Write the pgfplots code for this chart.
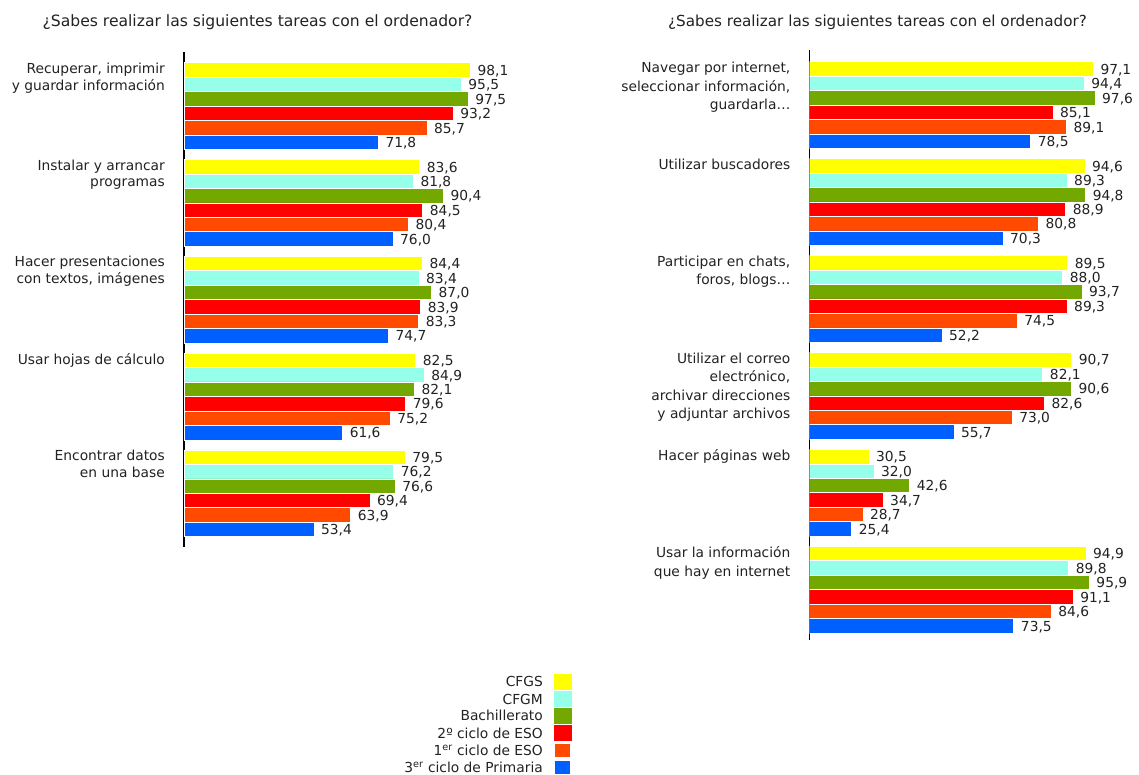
\documentclass[border=0pt]{standalone}
\usepackage{pgfplots}
\pgfplotsset{compat=1.18}
\usepackage{pgfplotstable}
\usepackage{fontspec}
\setmainfont{DejaVu Sans}

\definecolor{cfgs}{HTML}{FFFF00}
\definecolor{cfgm}{HTML}{96FFEA}
\definecolor{bach}{HTML}{72A800}
\definecolor{esoii}{HTML}{FF0000}
\definecolor{esoi}{HTML}{FF4A00}
\definecolor{prim}{HTML}{0060FF}
\definecolor{txt}{HTML}{222222}

\newcommand{\lblfont}{\fontsize{13.8}{16.7}\selectfont}

% Left panel: office tasks
\pgfplotstableread{
idx CFGS CFGM Bach ESOii ESOi Prim
0 98.1 95.5 97.5 93.2 85.7 71.8
1 83.6 81.8 90.4 84.5 80.4 76.0
2 84.4 83.4 87.0 83.9 83.3 74.7
3 82.5 84.9 82.1 79.6 75.2 61.6
4 79.5 76.2 76.6 69.4 63.9 53.4
}\tareasofi

% Right panel: internet tasks
\pgfplotstableread{
idx CFGS CFGM Bach ESOii ESOi Prim
0 97.1 94.4 97.6 85.1 89.1 78.5
1 94.6 89.3 94.8 88.9 80.8 70.3
2 89.5 88.0 93.7 89.3 74.5 52.2
3 90.7 82.1 90.6 82.6 73.0 55.7
4 30.5 32.0 42.6 34.7 28.7 25.4
5 94.9 89.8 95.9 91.1 84.6 73.5
}\tareasnet

\pgfplotsset{
  panel/.style={
    y dir=reverse, enlargelimits=false,
    axis x line=none, axis y line*=left,
    axis line style={-, line width=1.2pt, black},
    xtick=\empty, major tick length=0pt,
    xbar, bar width=14.45pt,
    point meta=x,
    /pgf/number format/assume math mode=true,
    nodes near coords={\pgfmathprintnumber[fixed,fixed zerofill,precision=1,use comma]{\pgfplotspointmeta}},
    every node near coord/.append style={anchor=west, inner sep=0pt,
      xshift=7pt, yshift=-1pt, font=\lblfont, text=txt},
    yticklabel style={anchor=north east, align=right, inner sep=0pt,
      xshift=-19pt, text=txt},
    clip mode=individual,
  },
  bars/.style={draw=white, line width=0.5pt},
  s0/.style={bars, fill=cfgs,  bar shift=36.125pt},
  s1/.style={bars, fill=cfgm,  bar shift=21.675pt},
  s2/.style={bars, fill=bach,  bar shift=7.225pt},
  s3/.style={bars, fill=esoii, bar shift=-7.225pt},
  s4/.style={bars, fill=esoi,  bar shift=-21.675pt},
  s5/.style={bars, fill=prim,  bar shift=-36.125pt},
}

\begin{document}
\begin{tikzpicture}
\path[use as bounding box] (0,0) rectangle (1139pt,-774pt);

\node[font=\fontsize{15.6}{18}\selectfont, text=txt] at (257.5pt,-22pt)
  {¿Sabes realizar las siguientes tareas con el ordenador?};
\node[font=\fontsize{15.2}{18}\selectfont, text=txt] at (877.5pt,-22pt)
  {¿Sabes realizar las siguientes tareas con el ordenador?};

\begin{axis}[panel,
  at={(184pt,-52pt)}, anchor=north west,
  x=3.5pt, y=96.8pt,
  xmin=16.3, xmax=115, ymin=-0.558, ymax=4.553,
  ytick={-0.448,0.552,1.552,2.552,3.552},
  yticklabel style={font=\fontsize{13.8}{16.7}\selectfont},
  yticklabels={{Recuperar, imprimir\\y guardar información},
    {Instalar y arrancar\\programas},
    {Hacer presentaciones\\con textos, imágenes},
    {Usar hojas de cálculo},
    {Encontrar datos\\en una base}},
]
\addplot[s0] table[x=CFGS, y=idx] {\tareasofi};
\addplot[s1] table[x=CFGM, y=idx] {\tareasofi};
\addplot[s2] table[x=Bach, y=idx] {\tareasofi};
\addplot[s3] table[x=ESOii, y=idx] {\tareasofi};
\addplot[s4] table[x=ESOi, y=idx] {\tareasofi};
\addplot[s5] table[x=Prim, y=idx] {\tareasofi};
\end{axis}

\begin{axis}[panel,
  at={(809.5pt,-50pt)}, anchor=north west,
  x=3.37pt, y=96.9pt,
  xmin=12.9, xmax=110, ymin=-0.568, ymax=5.52,
  ytick={-0.447,0.553,1.553,2.553,3.553,4.553},
  yticklabel style={font=\fontsize{13.8}{18.6}\selectfont},
  yticklabels={{Navegar por internet,\\seleccionar información,\\guardarla…},
    {Utilizar buscadores},
    {Participar en chats,\\foros, blogs…},
    {Utilizar el correo\\electrónico,\\archivar direcciones\\y adjuntar archivos},
    {Hacer páginas web},
    {Usar la información\\que hay en internet}},
]
\addplot[s0] table[x=CFGS, y=idx] {\tareasnet};
\addplot[s1] table[x=CFGM, y=idx] {\tareasnet};
\addplot[s2] table[x=Bach, y=idx] {\tareasnet};
\addplot[s3] table[x=ESOii, y=idx] {\tareasnet};
\addplot[s4] table[x=ESOi, y=idx] {\tareasnet};
\addplot[s5] table[x=Prim, y=idx] {\tareasnet};
\end{axis}

% Legend
\begin{scope}[font=\lblfont, text=txt]
\node[anchor=east, inner sep=0pt] at (543pt,-681.7pt) {CFGS};
\node[anchor=east, inner sep=0pt] at (543pt,-699.3pt) {CFGM};
\node[anchor=east, inner sep=0pt] at (543pt,-715.7pt) {Bachillerato};
\node[anchor=east, inner sep=0pt] at (543pt,-733.3pt) {2º ciclo de ESO};
\node[anchor=east, inner sep=0pt] at (543pt,-750pt) {1\textsuperscript{er} ciclo de ESO};
\node[anchor=east, inner sep=0pt] at (543pt,-767.3pt) {3\textsuperscript{er} ciclo de Primaria};
\fill[cfgs]  (554pt,-673.7pt) rectangle (571.5pt,-689.7pt);
\fill[cfgm]  (554pt,-691.3pt) rectangle (571.5pt,-707.3pt);
\fill[bach]  (554pt,-707.7pt) rectangle (571.5pt,-723.7pt);
\fill[esoii] (554pt,-725.3pt) rectangle (571.5pt,-741.3pt);
\fill[esoi]  (555pt,-744pt) rectangle (570pt,-757pt);
\fill[prim]  (555pt,-761pt) rectangle (570pt,-774pt);
\end{scope}
\end{tikzpicture}
\end{document}
